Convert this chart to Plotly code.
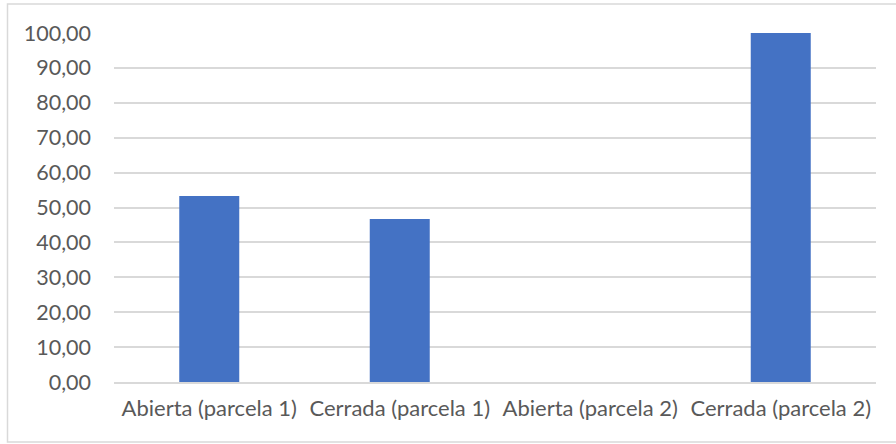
import plotly.graph_objects as go

categories = ["Abierta (parcela 1)", "Cerrada (parcela 1)", "Abierta (parcela 2)", "Cerrada (parcela 2)"]
values = [53.33, 46.67, 0.0, 100.0]
y_ticks = [0, 10, 20, 30, 40, 50, 60, 70, 80, 90, 100]
y_tick_labels = [f"{v:.2f}".replace(".", ",") for v in y_ticks]

fig = go.Figure(go.Bar(
    x=categories, y=values,
    marker=dict(color="#4472C4", line=dict(width=0)),
))

fig.update_layout(
    width=896, height=444,
    margin=dict(l=114, r=20, t=33, b=62),
    paper_bgcolor="white", plot_bgcolor="white",
    bargap=0.685,
    showlegend=False,
    font=dict(family="Lato, Open Sans, sans-serif", size=22, color="#595959"),
    xaxis=dict(showgrid=False, showline=True, linecolor="#d9d9d9", linewidth=1.5,
               ticks="", ticklabelstandoff=6, tickfont=dict(size=22, color="#595959")),
    yaxis=dict(range=[0, 100], tickvals=y_ticks, ticktext=y_tick_labels,
               showgrid=True, gridcolor="#d9d9d9", gridwidth=1.5,
               zeroline=False, showline=False, ticks="", ticklabelstandoff=22,
               tickfont=dict(size=21.5, color="#595959")),
    shapes=[dict(type="rect", xref="paper", yref="paper",
                 x0=-106.5/762, x1=1 + 30/762, y0=-60/349, y1=1 + 29/349,
                 line=dict(color="#d9d9d9", width=1.5), fillcolor="rgba(0,0,0,0)")],
)

fig.write_html("out.html", config={"displayModeBar": False},
               post_script="document.body.style.margin='0';")
